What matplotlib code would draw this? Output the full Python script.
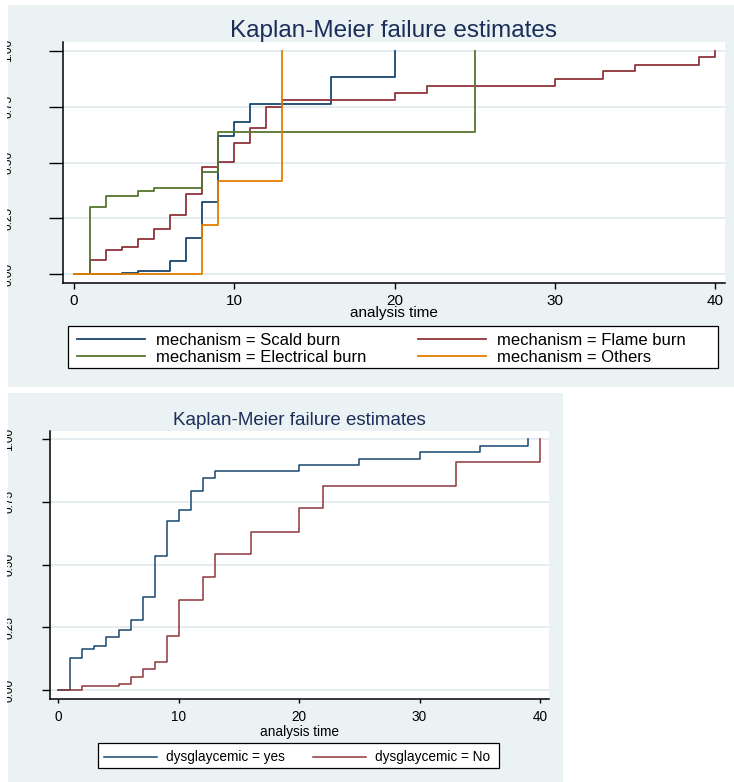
import matplotlib
matplotlib.use("Agg")
import matplotlib.pyplot as plt
from matplotlib.patches import Rectangle

plt.rcParams['font.family'] = ['Liberation Sans', 'DejaVu Sans']

# top panel: failure by burn mechanism
scald_t = [0, 3, 4, 6, 7, 8, 9, 10, 11, 16, 20]
scald_f = [0, 0.007, 0.016, 0.058, 0.164, 0.322, 0.618, 0.683, 0.762, 0.882, 1.0]
flame_t = [0, 1, 2, 3, 4, 5, 6, 7, 8, 9, 10, 11, 12, 13, 20, 22, 30, 33, 35, 39, 40]
flame_f = [0, 0.064, 0.109, 0.121, 0.159, 0.201, 0.264, 0.359, 0.479, 0.502, 0.586,
           0.653, 0.747, 0.779, 0.809, 0.842, 0.873, 0.908, 0.936, 0.970, 1.0]
elec_t = [0, 1, 2, 4, 5, 8, 9, 25]
elec_f = [0, 0.300, 0.349, 0.372, 0.386, 0.456, 0.636, 1.0]
other_t = [0, 8, 9, 13]
other_f = [0, 0.220, 0.417, 1.0]
mech_labels = ["mechanism = Scald burn", "mechanism = Flame burn",
               "mechanism = Electrical burn", "mechanism = Others"]

# bottom panel: failure by dysglycaemia
yes_t = [0, 1, 2, 3, 4, 5, 6, 7, 8, 9, 10, 11, 12, 13, 20, 25, 30, 35, 39]
yes_f = [0, 0.129, 0.165, 0.176, 0.211, 0.239, 0.281, 0.370, 0.536, 0.675, 0.718,
         0.795, 0.846, 0.872, 0.897, 0.921, 0.951, 0.973, 1.0]
no_t = [0, 2, 5, 6, 7, 8, 9, 10, 12, 13, 16, 20, 22, 33, 40]
no_f = [0, 0.017, 0.024, 0.053, 0.082, 0.110, 0.217, 0.359, 0.449, 0.541, 0.632,
        0.725, 0.815, 0.908, 1.0]
dys_labels = ["dysglaycemic = yes", "dysglaycemic = No"]

yticks = [0, 0.25, 0.5, 0.75, 1.0]
ytick_labels = ["0.00", "0.25", "0.50", "0.75", "1.00"]
xticks = [0, 10, 20, 30, 40]

navy = "#1a476f"
maroon = "#90353b"
green = "#55752f"
orange = "#e37e00"
bg = "#eaf2f3"
grid = "#e0e9ec"
title_col = "#1c2d5a"

W, H = 734, 782
fig = plt.figure(figsize=(W / 100, H / 100), dpi=100, facecolor="white")


def box(x0, y0, x1, y1):
    # pixel box (top-left origin) -> figure fraction rect
    return (x0 / W, 1 - y1 / H), (x1 - x0) / W, (y1 - y0) / H


def panel_bg(x0, y0, x1, y1):
    xy, w, h = box(x0, y0, x1, y1)
    fig.add_artist(Rectangle(xy, w, h, transform=fig.transFigure,
                             facecolor=bg, edgecolor="none", zorder=-1))


def legend_frame(x0, y0, x1, y1):
    xy, w, h = box(x0, y0, x1, y1)
    fig.add_artist(Rectangle(xy, w, h, transform=fig.transFigure,
                             facecolor="white", edgecolor="black", lw=0.9, zorder=1))


def style_axes(ax, xlim, ylim, fs_tick, ylen, ypad, xlen, xpad):
    ax.set_facecolor("white")
    ax.set_xlim(*xlim)
    ax.set_ylim(*ylim)
    for s in ["top", "right"]:
        ax.spines[s].set_visible(False)
    for s in ["left", "bottom"]:
        ax.spines[s].set_linewidth(1.1)
    ax.set_yticks(yticks)
    ax.set_yticklabels(ytick_labels, rotation=90, va="center")
    ax.set_xticks(xticks)
    ax.tick_params(axis="y", length=ylen, width=1, pad=ypad, labelsize=8.5)
    ax.tick_params(axis="x", length=xlen, width=1, pad=xpad, labelsize=fs_tick)
    for y in yticks:
        ax.axhline(y, color=grid, lw=1.2, zorder=0)


# ---------------- top panel ----------------
panel_bg(8, 5, 734, 387)
xy, w, h = box(63, 42, 725, 282.7)
ax1 = fig.add_axes([xy[0], xy[1], w, h])
style_axes(ax1, (-0.686, 40.6), (-0.0376, 1.039), 11, 10, 25, 4, 4)
l1, = ax1.step(scald_t, scald_f, where="post", color=navy, lw=1.3)
l2, = ax1.step(flame_t, flame_f, where="post", color=maroon, lw=1.3)
l3, = ax1.step(elec_t, elec_f, where="post", color=green, lw=1.3)
l4, = ax1.step(other_t, other_f, where="post", color=orange, lw=1.3)
ax1.set_title("Kaplan-Meier failure estimates", fontsize=17.5, color=title_col, pad=2)
ax1.set_xlabel("analysis time", fontsize=11, labelpad=-1)

legend_frame(68, 326, 718, 368)
fig.legend([l1, l3, l2, l4], [mech_labels[0], mech_labels[2], mech_labels[1], mech_labels[3]],
           loc="upper left", bbox_to_anchor=(77 / W, 1 - 333 / H), ncol=2, frameon=False,
           fontsize=12, handlelength=4.08, handletextpad=0.66, columnspacing=3.07,
           borderpad=0, borderaxespad=0, labelspacing=0.1)

# ---------------- bottom panel ----------------
panel_bg(8, 393, 563, 782)
xy, w, h = box(50, 430.7, 548.7, 699.3)
ax2 = fig.add_axes([xy[0], xy[1], w, h])
style_axes(ax2, (-0.69, 40.73), (-0.037, 1.034), 9.8, 6, 19, 3, 5)
m1, = ax2.step(yes_t, yes_f, where="post", color=navy, lw=1.1)
m2, = ax2.step(no_t, no_f, where="post", color=maroon, lw=1.1)
ax2.set_title("Kaplan-Meier failure estimates", fontsize=13.5, color=title_col, pad=4)
ax2.set_xlabel("analysis time", fontsize=9.8, labelpad=0.5)

legend_frame(98, 743, 499, 768)
fig.legend([m1, m2], dys_labels, loc="upper left", bbox_to_anchor=(104 / W, 1 - 750.5 / H),
           ncol=2, frameon=False, fontsize=9.8, handlelength=3.9, handletextpad=0.66,
           columnspacing=2.04, borderpad=0, borderaxespad=0)

# the y tick labels are cut off at the left edge
fig.add_artist(Rectangle((0, 0), 7 / W, 1, transform=fig.transFigure,
                         facecolor="white", edgecolor="none", zorder=10))

fig.savefig("out.png", dpi=100, facecolor="white")
